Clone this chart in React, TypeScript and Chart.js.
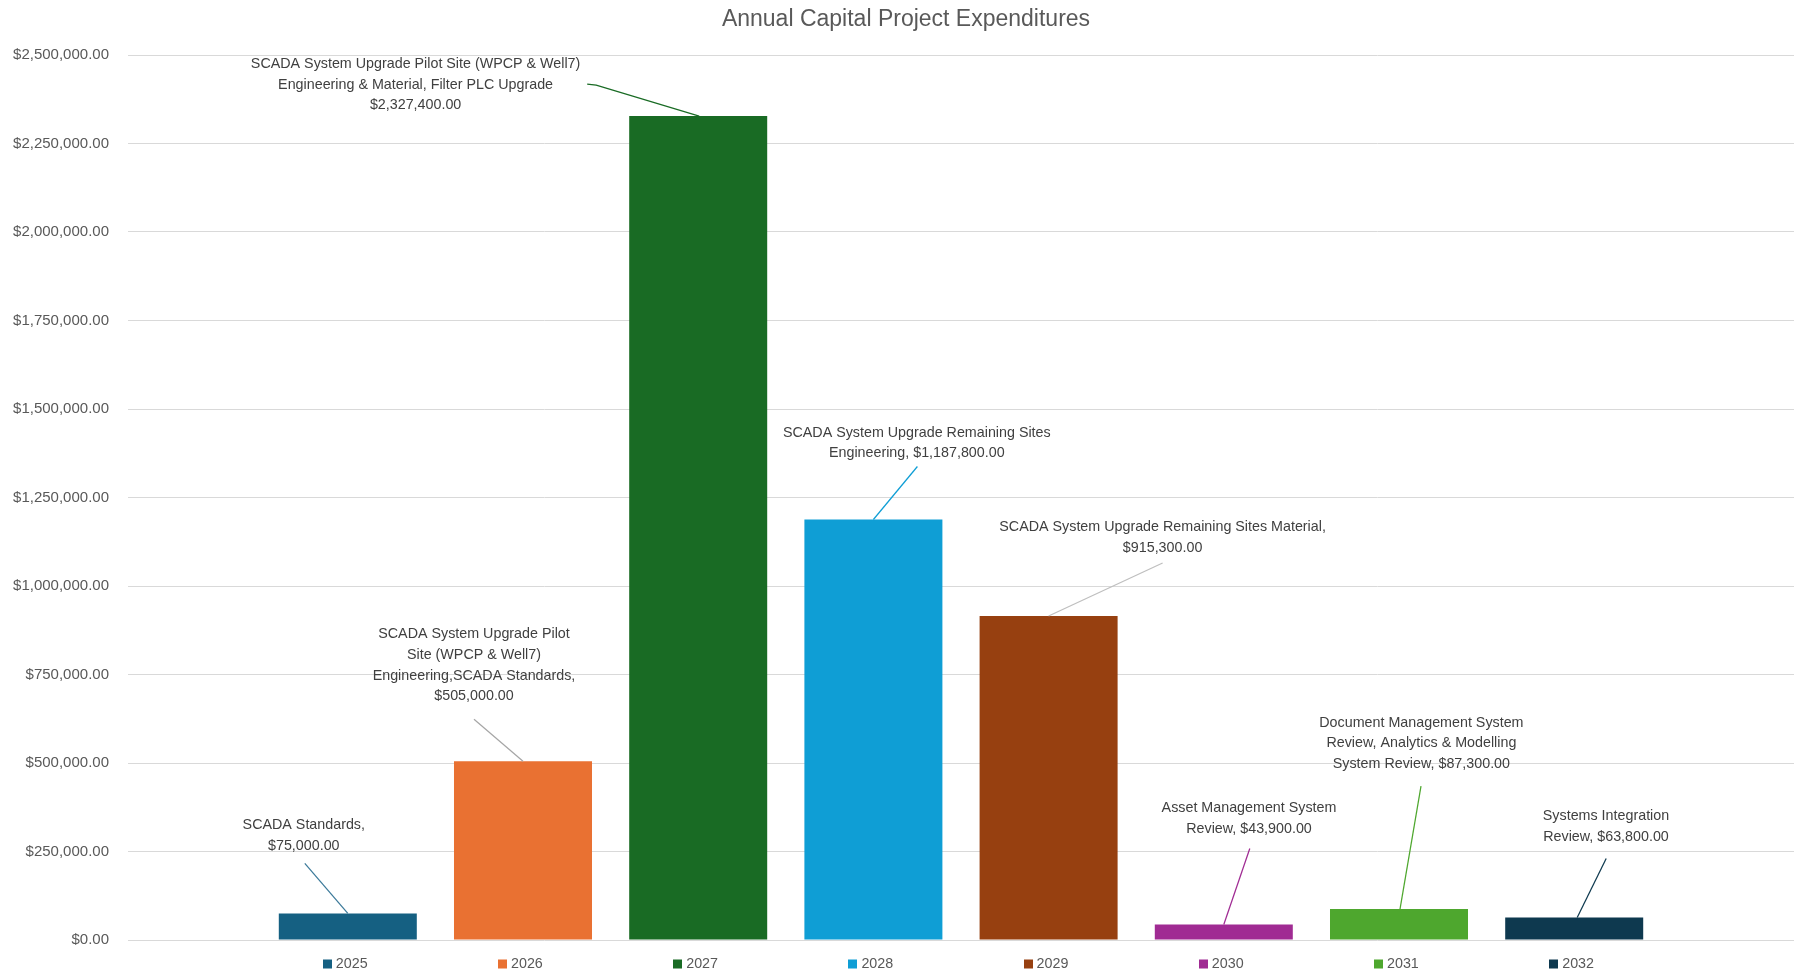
import React, { useEffect, useRef } from "react";
import { Chart, registerables } from "chart.js";

Chart.register(...registerables);

// ---- data ----
const years = ["2025", "2026", "2027", "2028", "2029", "2030", "2031", "2032"];
const amounts = [75000, 505000, 2327400, 1187800, 915300, 43900, 87300, 63800];
const labelLines: string[][] = [
  ["SCADA Standards,", "{v}"],
  ["SCADA System Upgrade Pilot", "Site (WPCP & Well7)", "Engineering,SCADA Standards,", "{v}"],
  ["SCADA System Upgrade Pilot Site (WPCP & Well7)", "Engineering & Material, Filter PLC Upgrade", "{v}"],
  ["SCADA System Upgrade Remaining Sites", "Engineering, {v}"],
  ["SCADA System Upgrade Remaining Sites Material,", "{v}"],
  ["Asset Management System", "Review, {v}"],
  ["Document Management System", "Review, Analytics & Modelling", "System Review, {v}"],
  ["Systems Integration", "Review, {v}"],
];
const yTickMax = 2500000;
const yTickStep = 250000;
const chartTitle = "Annual Capital Project Expenditures";

// ---- styles ----
const barColors = ["#156082", "#E97132", "#196B24", "#0F9ED5", "#974010", "#A02B93", "#4EA72E", "#0E394F"];
const leaderColors = ["#3C7A9A", "#A6A6A6", "#196B24", "#0F9ED5", "#BFBFBF", "#A02B93", "#4EA72E", "#0E394F"];
// label layout: offset of first text line centre from the bar's top-centre (px)
const labelOffsets: [number, number][] = [
  [-44, -88.5], [-49, -127], [-282.6, -52], [43.4, -86.8],
  [114, -89], [25.2, -116.2], [22.4, -186.4], [31.8, -101.4],
];
// leader line paths relative to the bar's top-centre (px)
const leaderPaths: [number, number][][] = [
  [[-43, -50], [0, 0]],
  [[-49, -42], [0, 0]],
  [[-111, -32], [-102, -31], [1, 0]],
  [[44, -53], [0, 0]],
  [[114, -53], [0, 0]],
  [[26, -76], [0, 0]],
  [[22, -123], [1, 0]],
  [[32, -59], [3, 0]],
];

const FONT = "'Liberation Sans', Arial, sans-serif";
const fmt = (v: number) =>
  "$" + v.toLocaleString("en-US", { minimumFractionDigits: 2, maximumFractionDigits: 2 });

const annotatePlugin = {
  id: "annotate",
  afterDatasetsDraw(chart: any) {
    const ctx = chart.ctx;
    ctx.save();
    // leader lines + labels
    chart.data.datasets.forEach((ds: any, i: number) => {
      const el = chart.getDatasetMeta(i).data[0];
      if (!el) return;
      const bx = el.x;
      const by = el.y;
      const path = leaderPaths[i];
      ctx.beginPath();
      ctx.strokeStyle = leaderColors[i];
      ctx.lineWidth = 1.25;
      path.forEach((p, k) => {
        if (k === 0) ctx.moveTo(bx + p[0], by + p[1]);
        else ctx.lineTo(bx + p[0], by + p[1]);
      });
      ctx.stroke();

      ctx.font = `14.3px ${FONT}`;
      ctx.fillStyle = "#404040";
      ctx.textAlign = "center";
      ctx.textBaseline = "middle";
      const [dx, dy] = labelOffsets[i];
      labelLines[i].forEach((line, k) => {
        ctx.fillText(line.replace("{v}", fmt(ds.data[0])), bx + dx, by + dy + k * 20.7);
      });
    });
    // bottom legend under each bar
    chart.data.datasets.forEach((ds: any, i: number) => {
      const el = chart.getDatasetMeta(i).data[0];
      if (!el) return;
      const cx = el.x;
      ctx.fillStyle = barColors[i];
      ctx.fillRect(Math.round(cx - 25), 959.5, 9, 9);
      ctx.fillStyle = "#595959";
      ctx.font = `14.3px ${FONT}`;
      ctx.textAlign = "left";
      ctx.textBaseline = "middle";
      ctx.fillText(ds.label, cx - 12, 964);
    });
    // title
    ctx.fillStyle = "#595959";
    ctx.font = `23px ${FONT}`;
    ctx.textAlign = "center";
    ctx.textBaseline = "alphabetic";
    ctx.fillText(chartTitle, 906, 26);
    ctx.restore();
  },
};

export default function App() {
  const ref = useRef<HTMLCanvasElement | null>(null);
  useEffect(() => {
    if (!ref.current) return;
    const chart = new Chart(ref.current, {
      type: "bar",
      data: {
        labels: [""],
        datasets: years.map((y, i) => ({
          label: y,
          data: [amounts[i]],
          backgroundColor: barColors[i],
          borderWidth: 0,
          categoryPercentage: 0.8413,
          barPercentage: 0.7877,
        })),
      },
      options: {
        animation: false,
        responsive: false,
        devicePixelRatio: 1,
        layout: { padding: { top: 55, bottom: 31, left: 0, right: 2 } },
        plugins: {
          legend: { display: false },
          title: { display: false },
          tooltip: { enabled: false },
        },
        scales: {
          x: { display: false },
          y: {
            min: 0,
            max: yTickMax,
            afterFit: (s: any) => {
              s.width = 128;
            },
            border: { display: false },
            grid: { color: "#D9D9D9", lineWidth: 1, drawTicks: false },
            ticks: {
              stepSize: yTickStep,
              padding: 19,
              color: "#595959",
              font: { family: FONT, size: 15 },
              callback: (v: any) => fmt(Number(v)),
            },
          },
        },
      },
      plugins: [annotatePlugin],
    });
    return () => chart.destroy();
  }, []);
  return (
    <div style={{ position: "fixed", left: 0, top: 0, width: 1796, height: 971, background: "#fff" }}>
      <canvas ref={ref} width={1796} height={971} style={{ display: "block" }} />
    </div>
  );
}
